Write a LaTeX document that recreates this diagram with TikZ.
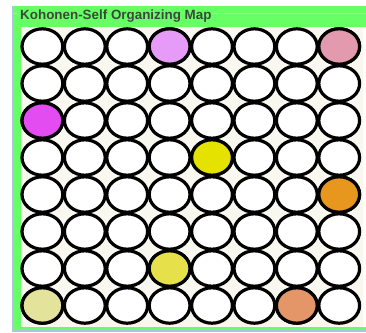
\documentclass[tikz,border=0pt]{standalone}
\usepackage{fontspec}
\setmainfont{Liberation Sans}
\definecolor{frame}{RGB}{102,255,102}
\definecolor{inner}{RGB}{248,248,240}
\definecolor{edge}{RGB}{176,196,222}
\definecolor{legline}{RGB}{170,235,170}
\definecolor{ttl}{RGB}{60,72,60}
\definecolor{cA}{RGB}{229,155,247}
\definecolor{cB}{RGB}{228,154,174}
\definecolor{cC}{RGB}{226,76,240}
\definecolor{cD}{RGB}{230,226,0}
\definecolor{cE}{RGB}{232,151,30}
\definecolor{cF}{RGB}{230,224,74}
\definecolor{cG}{RGB}{227,227,156}
\definecolor{cH}{RGB}{228,150,104}
\tikzset{
  cell/.style={ellipse, draw=black, line width=3.2pt, minimum width=40.8pt, minimum height=35.4pt, inner sep=0pt, outer sep=0pt, fill=white},
}
\usetikzlibrary{shapes.geometric}
\begin{document}
\begin{tikzpicture}[x=1pt,y=-1pt]
\useasboundingbox (0,0) rectangle (366,332);
\fill[white] (0,0) rectangle (366,332);
% frame
\fill[edge] (12,6) rectangle (366,332);
\fill[frame] (13,6) rectangle (366,330);
\fill[inner] (21,27) rectangle (363,327);
\fill[white!70!inner] (363,27) rectangle (366,327);
\draw[legline, line width=0.8pt] (13,13.5) -- (17,13.5);
\draw[legline, line width=0.8pt] (214,13.5) -- (366,13.5);
\node[anchor=base west, inner sep=0pt, text=ttl, font=\bfseries\fontsize{13.4}{15}\selectfont] (title) at (20,19.5) {Kohonen-Self Organizing Map};
% grid
\foreach \r in {1,...,8}{
  \foreach \c in {1,...,8}{
    \node[cell] (n\r-\c) at ({42.4+42.4*(\c-1)},{46.5+37*(\r-1)}) {};
  }
}
\node[cell, fill=cA] (s1) at (n1-4) {};
\node[cell, fill=cB] (s2) at (n1-8) {};
\node[cell, fill=cC] (s3) at (n3-1) {};
\node[cell, fill=cD] (s4) at (n4-5) {};
\node[cell, fill=cE] (s5) at (n5-8) {};
\node[cell, fill=cF] (s6) at (n7-4) {};
\node[cell, fill=cG] (s7) at (n8-1) {};
\node[cell, fill=cH] (s8) at (n8-7) {};
\end{tikzpicture}
\end{document}
